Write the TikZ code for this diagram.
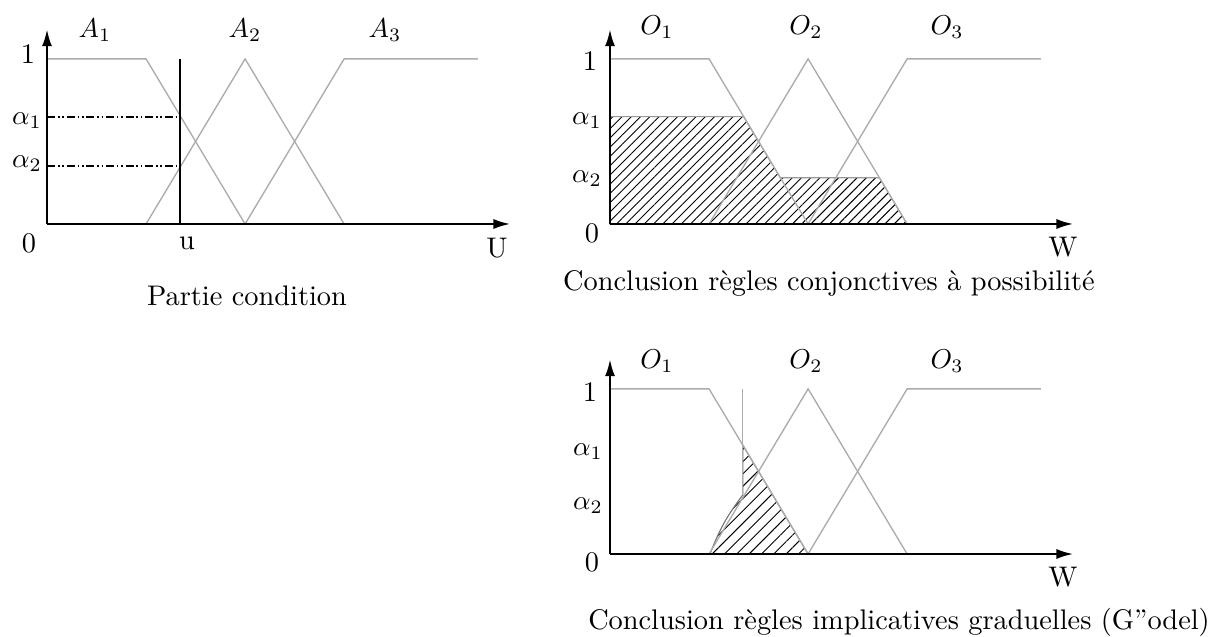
\documentclass[tikz,border=0pt]{standalone}
\usepackage{amsmath,amssymb}
\usepackage{tikz}
\usetikzlibrary{arrows.meta,patterns.meta,calc}

\tikzset{
  memb/.style={gray!65,line width=0.5pt},
  axis/.style={->,line width=0.9pt},
  hatch/.style={pattern={Lines[angle=45,distance=#1,line width=0.35pt]}},
  hatch/.default=2.4pt,
  alev/.style={line width=0.6pt,dash pattern=on 3pt off 1pt on 0.6pt off 1pt on 0.6pt off 1pt},
}

\begin{document}
\begin{tikzpicture}[x=0.0129cm,y=-0.0129cm,>={Latex[length=2.2mm,width=1.3mm]},font=\fontsize{10.4pt}{12pt}\selectfont]
\useasboundingbox (0,0) rectangle (1226,637);
\def\ux{1.277cm}
\def\uy{2.129cm}
% the three fuzzy sets and the axes, in panel units
\def\panelbase{
  \draw[memb] (0,1) -- (1,1) -- (2,0);
  \draw[memb] (1,0) -- (2,1) -- (3,0);
  \draw[memb] (2,0) -- (3,1) -- (4.35,1);
  \draw[axis] (0,0) -- (0,1.18);
  \draw[axis] (0,0) -- (4.68,0);
}

% condition part
\begin{scope}[shift={(47,224)},x=\ux,y=\uy]
  \panelbase
  \draw[line width=0.8pt] (1.343,0) -- (1.343,1);
  \draw[alev] (0,0.647) -- (1.343,0.647);
  \draw[alev] (0,0.350) -- (1.343,0.350);
\end{scope}

% conjunctive rules
\begin{scope}[shift={(610,224)},x=\ux,y=\uy]
  \filldraw[hatch,draw=gray!80,line width=0.4pt] (0,0) -- (0,0.65) -- (1.35,0.65) -- (1.72,0.28) -- (2.72,0.28) -- (3,0) -- cycle;
  \panelbase
\end{scope}

% implicative rules
\begin{scope}[shift={(610,554)},x=\ux,y=\uy]
  \filldraw[hatch=3.2pt,draw=gray!90!black,line width=0.4pt] (1.01,0) to[bend left=8] (1.34,0.357) -- (1.34,0.66) -- (2,0) -- cycle;
  \draw[memb] (1.34,1) -- (1.34,0.357);
  \panelbase
\end{scope}

% labels
\foreach \x/\y/\name/\txt in {95/30/lA1/$A_1$, 245/30/lA2/$A_2$, 385/30/lA3/$A_3$,
    28/54/lOne/1, 27/121/lAlpha1/$\alpha_1$, 27/164/lAlpha2/$\alpha_2$, 29/243/lZero/0,
    187/243/lu/u, 497/248/lU/U,
    657/27/tO1/$O_1$, 806/27/tO2/$O_2$, 947/27/tO3/$O_3$,
    590/61/tOne/1, 587/121/tAlpha1/$\alpha_1$, 587/179/tAlpha2/$\alpha_2$, 592/233/tZero/0, 1063/247/tW/W,
    657/361/bO1/$O_1$, 806/361/bO2/$O_2$, 947/361/bO3/$O_3$,
    590/392/bOne/1, 588/452/bAlpha1/$\alpha_1$, 588/506/bAlpha2/$\alpha_2$, 592/562/bZero/0, 1063/577/bW/W} {
  \node (\name) at (\x,\y) {\txt};
}
\node (capCond) at (247,296) {Partie condition};
\node (capConj) at (829,283) {Conclusion règles conjonctives à possibilité};
\node (capImpl) at (899,622) {Conclusion règles implicatives graduelles (G”odel)};
\end{tikzpicture}
\end{document}
